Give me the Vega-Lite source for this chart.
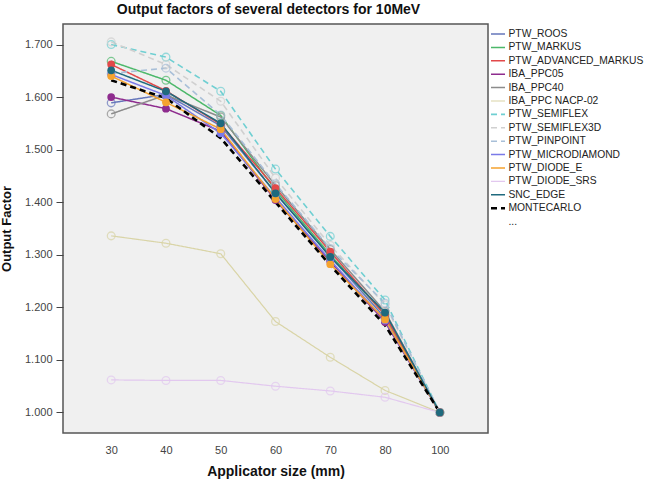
{
  "$schema": "https://vega.github.io/schema/vega-lite/v6.json",
  "width": 425,
  "height": 409,
  "autosize": {"type": "none"},
  "padding": {"left": 63, "top": 24, "right": 158, "bottom": 46},
  "background": "#ffffff",
  "title": {
    "text": "Output factors of several detectors for 10MeV",
    "font": "Liberation Sans",
    "fontSize": 14,
    "fontWeight": "bold",
    "color": "#111111",
    "anchor": "middle",
    "dx": -7,
    "dy": 13,
    "offset": 6,
    "baseline": "bottom"
  },
  "config": {
    "view": {"fill": "#f0f0f0", "stroke": "#555555", "strokeWidth": 1.5},
    "font": "Liberation Sans",
    "axis": {"grid": false, "domain": false, "labelFont": "Liberation Sans", "titleFont": "Liberation Sans", "labelColor": "#444444", "titleColor": "#111111", "labelFontSize": 11, "titleFontSize": 14, "titleFontWeight": "bold"}
  },
  "data": {
    "values": [
      {"detector": "PTW_ROOS", "size": 30, "of": 1.589}, {"detector": "PTW_ROOS", "size": 40, "of": 1.605}, {"detector": "PTW_ROOS", "size": 50, "of": 1.545}, {"detector": "PTW_ROOS", "size": 60, "of": 1.418}, {"detector": "PTW_ROOS", "size": 70, "of": 1.297}, {"detector": "PTW_ROOS", "size": 80, "of": 1.180}, {"detector": "PTW_ROOS", "size": 100, "of": 1.000},
      {"detector": "PTW_MARKUS", "size": 30, "of": 1.668}, {"detector": "PTW_MARKUS", "size": 40, "of": 1.632}, {"detector": "PTW_MARKUS", "size": 50, "of": 1.565}, {"detector": "PTW_MARKUS", "size": 60, "of": 1.423}, {"detector": "PTW_MARKUS", "size": 70, "of": 1.300}, {"detector": "PTW_MARKUS", "size": 80, "of": 1.186}, {"detector": "PTW_MARKUS", "size": 100, "of": 1.000},
      {"detector": "PTW_ADVANCED_MARKUS", "size": 30, "of": 1.662}, {"detector": "PTW_ADVANCED_MARKUS", "size": 40, "of": 1.612}, {"detector": "PTW_ADVANCED_MARKUS", "size": 50, "of": 1.548}, {"detector": "PTW_ADVANCED_MARKUS", "size": 60, "of": 1.427}, {"detector": "PTW_ADVANCED_MARKUS", "size": 70, "of": 1.306}, {"detector": "PTW_ADVANCED_MARKUS", "size": 80, "of": 1.185}, {"detector": "PTW_ADVANCED_MARKUS", "size": 100, "of": 1.000},
      {"detector": "IBA_PPC05", "size": 30, "of": 1.600}, {"detector": "IBA_PPC05", "size": 40, "of": 1.578}, {"detector": "IBA_PPC05", "size": 50, "of": 1.535}, {"detector": "IBA_PPC05", "size": 60, "of": 1.404}, {"detector": "IBA_PPC05", "size": 70, "of": 1.287}, {"detector": "IBA_PPC05", "size": 80, "of": 1.172}, {"detector": "IBA_PPC05", "size": 100, "of": 1.000},
      {"detector": "IBA_PPC40", "size": 30, "of": 1.568}, {"detector": "IBA_PPC40", "size": 40, "of": 1.604}, {"detector": "IBA_PPC40", "size": 50, "of": 1.562}, {"detector": "IBA_PPC40", "size": 60, "of": 1.432}, {"detector": "IBA_PPC40", "size": 70, "of": 1.310}, {"detector": "IBA_PPC40", "size": 80, "of": 1.192}, {"detector": "IBA_PPC40", "size": 100, "of": 1.000},
      {"detector": "IBA_PPC NACP-02", "size": 30, "of": 1.336}, {"detector": "IBA_PPC NACP-02", "size": 40, "of": 1.322}, {"detector": "IBA_PPC NACP-02", "size": 50, "of": 1.302}, {"detector": "IBA_PPC NACP-02", "size": 60, "of": 1.173}, {"detector": "IBA_PPC NACP-02", "size": 70, "of": 1.105}, {"detector": "IBA_PPC NACP-02", "size": 80, "of": 1.042}, {"detector": "IBA_PPC NACP-02", "size": 100, "of": 1.000},
      {"detector": "PTW_SEMIFLEX", "size": 30, "of": 1.700}, {"detector": "PTW_SEMIFLEX", "size": 40, "of": 1.676}, {"detector": "PTW_SEMIFLEX", "size": 50, "of": 1.611}, {"detector": "PTW_SEMIFLEX", "size": 60, "of": 1.463}, {"detector": "PTW_SEMIFLEX", "size": 70, "of": 1.335}, {"detector": "PTW_SEMIFLEX", "size": 80, "of": 1.214}, {"detector": "PTW_SEMIFLEX", "size": 100, "of": 1.000},
      {"detector": "PTW_SEMIFLEX3D", "size": 30, "of": 1.705}, {"detector": "PTW_SEMIFLEX3D", "size": 40, "of": 1.662}, {"detector": "PTW_SEMIFLEX3D", "size": 50, "of": 1.592}, {"detector": "PTW_SEMIFLEX3D", "size": 60, "of": 1.446}, {"detector": "PTW_SEMIFLEX3D", "size": 70, "of": 1.318}, {"detector": "PTW_SEMIFLEX3D", "size": 80, "of": 1.205}, {"detector": "PTW_SEMIFLEX3D", "size": 100, "of": 1.000},
      {"detector": "PTW_PINPOINT", "size": 30, "of": 1.645}, {"detector": "PTW_PINPOINT", "size": 40, "of": 1.655}, {"detector": "PTW_PINPOINT", "size": 50, "of": 1.566}, {"detector": "PTW_PINPOINT", "size": 60, "of": 1.435}, {"detector": "PTW_PINPOINT", "size": 70, "of": 1.312}, {"detector": "PTW_PINPOINT", "size": 80, "of": 1.208}, {"detector": "PTW_PINPOINT", "size": 100, "of": 1.000},
      {"detector": "PTW_MICRODIAMOND", "size": 30, "of": 1.643}, {"detector": "PTW_MICRODIAMOND", "size": 40, "of": 1.603}, {"detector": "PTW_MICRODIAMOND", "size": 50, "of": 1.531}, {"detector": "PTW_MICRODIAMOND", "size": 60, "of": 1.409}, {"detector": "PTW_MICRODIAMOND", "size": 70, "of": 1.290}, {"detector": "PTW_MICRODIAMOND", "size": 80, "of": 1.175}, {"detector": "PTW_MICRODIAMOND", "size": 100, "of": 1.000},
      {"detector": "PTW_DIODE_E", "size": 30, "of": 1.640}, {"detector": "PTW_DIODE_E", "size": 40, "of": 1.590}, {"detector": "PTW_DIODE_E", "size": 50, "of": 1.539}, {"detector": "PTW_DIODE_E", "size": 60, "of": 1.406}, {"detector": "PTW_DIODE_E", "size": 70, "of": 1.282}, {"detector": "PTW_DIODE_E", "size": 80, "of": 1.177}, {"detector": "PTW_DIODE_E", "size": 100, "of": 1.000},
      {"detector": "PTW_DIODE_SRS", "size": 30, "of": 1.062}, {"detector": "PTW_DIODE_SRS", "size": 40, "of": 1.061}, {"detector": "PTW_DIODE_SRS", "size": 50, "of": 1.061}, {"detector": "PTW_DIODE_SRS", "size": 60, "of": 1.050}, {"detector": "PTW_DIODE_SRS", "size": 70, "of": 1.041}, {"detector": "PTW_DIODE_SRS", "size": 80, "of": 1.029}, {"detector": "PTW_DIODE_SRS", "size": 100, "of": 1.000},
      {"detector": "SNC_EDGE", "size": 30, "of": 1.651}, {"detector": "SNC_EDGE", "size": 40, "of": 1.611}, {"detector": "SNC_EDGE", "size": 50, "of": 1.550}, {"detector": "SNC_EDGE", "size": 60, "of": 1.417}, {"detector": "SNC_EDGE", "size": 70, "of": 1.296}, {"detector": "SNC_EDGE", "size": 80, "of": 1.190}, {"detector": "SNC_EDGE", "size": 100, "of": 1.000},
      {"detector": "MONTECARLO", "size": 30, "of": 1.632}, {"detector": "MONTECARLO", "size": 40, "of": 1.598}, {"detector": "MONTECARLO", "size": 50, "of": 1.522}, {"detector": "MONTECARLO", "size": 60, "of": 1.400}, {"detector": "MONTECARLO", "size": 70, "of": 1.280}, {"detector": "MONTECARLO", "size": 80, "of": 1.166}, {"detector": "MONTECARLO", "size": 100, "of": 1.000}
    ]
  },
  "encoding": {
    "x": {
      "field": "size", "type": "ordinal",
      "scale": {"type": "point", "domain": [30, 40, 50, 60, 70, 80, 100], "padding": 0.88},
      "axis": {"title": "Applicator size (mm)", "labelAngle": 0, "ticks": false, "tickSize": 0, "labelPadding": 11, "titlePadding": 9}
    },
    "y": {
      "field": "of", "type": "quantitative",
      "scale": {"domain": [0.961, 1.739], "nice": false, "zero": false},
      "axis": {"title": "Output Factor", "values": [1.0, 1.1, 1.2, 1.3, 1.4, 1.5, 1.6, 1.7], "format": ".3f", "tickSize": 7, "tickColor": "#444444", "labelPadding": 4, "titlePadding": 11, "titleFontSize": 13}
    }
  },
  "layer": [
    {
      "mark": {"type": "line"},
      "encoding": {
        "color": {
          "field": "detector", "type": "nominal",
          "scale": {
            "domain": ["PTW_ROOS", "PTW_MARKUS", "PTW_ADVANCED_MARKUS", "IBA_PPC05", "IBA_PPC40", "IBA_PPC NACP-02", "PTW_SEMIFLEX", "PTW_SEMIFLEX3D", "PTW_PINPOINT", "PTW_MICRODIAMOND", "PTW_DIODE_E", "PTW_DIODE_SRS", "SNC_EDGE", "MONTECARLO", "..."],
            "range": ["#6677bb", "#4cb86a", "#e2494a", "#8e2c8e", "#8c8c8c", "#d9d4a6", "#6fcfd2", "#d0d0d0", "#a8bfd8", "#7a7ae8", "#f5a32f", "#e2c8ef", "#1f6a7e", "#000000", "rgba(0,0,0,0)"]
          },
          "legend": {
            "title": null, "orient": "right", "offset": -2.5, "padding": 3.5,
            "symbolType": "stroke", "symbolSize": 196, "labelOffset": 2,
            "clipHeight": 13, "rowPadding": 0.4, "labelLimit": 200,
            "labelFont": "Liberation Sans", "labelFontSize": 10.3, "labelColor": "#222222"
          }
        },
        "strokeDash": {
          "field": "detector", "type": "nominal",
          "scale": {
            "domain": ["PTW_ROOS", "PTW_MARKUS", "PTW_ADVANCED_MARKUS", "IBA_PPC05", "IBA_PPC40", "IBA_PPC NACP-02", "PTW_SEMIFLEX", "PTW_SEMIFLEX3D", "PTW_PINPOINT", "PTW_MICRODIAMOND", "PTW_DIODE_E", "PTW_DIODE_SRS", "SNC_EDGE", "MONTECARLO", "..."],
            "range": [[1, 0], [1, 0], [1, 0], [1, 0], [1, 0], [1, 0], [6, 4], [6, 4], [6, 4], [1, 0], [1, 0], [1, 0], [1, 0], [6, 4], [1, 0]]
          },
          "legend": {"title": null}
        },
        "strokeWidth": {
          "field": "detector", "type": "nominal",
          "scale": {
            "type": "ordinal",
            "domain": ["PTW_ROOS", "PTW_MARKUS", "PTW_ADVANCED_MARKUS", "IBA_PPC05", "IBA_PPC40", "IBA_PPC NACP-02", "PTW_SEMIFLEX", "PTW_SEMIFLEX3D", "PTW_PINPOINT", "PTW_MICRODIAMOND", "PTW_DIODE_E", "PTW_DIODE_SRS", "SNC_EDGE", "MONTECARLO", "..."],
            "range": [1.5, 1.5, 1.5, 1.5, 1.5, 1.2, 1.6, 1.6, 1.6, 1.5, 1.5, 1.2, 1.5, 2.6, 1]
          },
          "legend": {"title": null}
        }
      }
    },
    {
      "transform": [{"filter": {"field": "detector", "oneOf": ["PTW_ROOS", "PTW_MARKUS", "IBA_PPC40", "IBA_PPC NACP-02", "PTW_SEMIFLEX", "PTW_SEMIFLEX3D", "PTW_PINPOINT", "PTW_DIODE_SRS"]}}],
      "mark": {"type": "point", "shape": "circle", "filled": false, "size": 60, "strokeWidth": 1.3},
      "encoding": {
        "color": {"field": "detector", "type": "nominal", "legend": null}
      }
    },
    {
      "transform": [{"filter": {"field": "detector", "oneOf": ["PTW_ADVANCED_MARKUS", "IBA_PPC05", "PTW_MICRODIAMOND", "PTW_DIODE_E", "SNC_EDGE"]}}],
      "mark": {"type": "point", "shape": "circle", "filled": true, "size": 60, "opacity": 1},
      "encoding": {
        "color": {"field": "detector", "type": "nominal", "legend": null}
      }
    }
  ]
}
